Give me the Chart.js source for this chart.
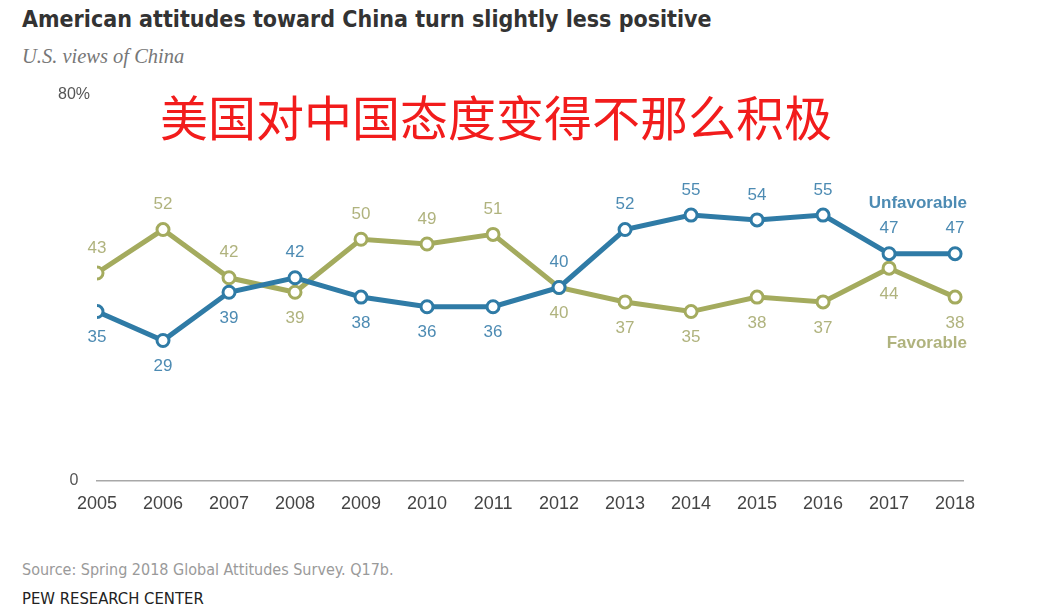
<!DOCTYPE html>
<html>
<head>
<meta charset="utf-8">
<script src="https://cdn.jsdelivr.net/npm/chart.js@4.4.1/dist/chart.umd.min.js"></script>
<style>
    html, body { margin: 0; padding: 0; background: #fff; }
    body { width: 1037px; height: 612px; position: relative; overflow: hidden; font-family: "Liberation Sans", Arial, sans-serif; }
    .title { position: absolute; left: 22px; top: 6px; font-family: "Liberation Sans Narrow", "DejaVu Sans Condensed", sans-serif; font-weight: bold; font-size: 23px; color: #333; white-space: nowrap; }
    .subtitle { position: absolute; left: 22px; top: 45px; font-family: "Liberation Serif", "DejaVu Serif", serif; font-style: italic; font-size: 20.5px; color: #777; }
    .overlay { position: absolute; left: 160px; top: 91px; font-family: "Noto Sans CJK SC", sans-serif; font-size: 48px; line-height: 1; color: #f21c1c; white-space: nowrap; }
    .chart-box { position: absolute; left: 0; top: 77px; width: 1037px; height: 453px; }
    .source { position: absolute; left: 22px; top: 560px; font-family: "Liberation Sans Narrow", "DejaVu Sans Condensed", sans-serif; font-size: 16px; color: #9a9a9a; white-space: nowrap; }
    .brand { position: absolute; left: 22px; top: 589px; font-family: "Liberation Sans Narrow", "DejaVu Sans Condensed", sans-serif; font-size: 16.5px; font-weight: 500; color: #222; white-space: nowrap; }
</style>
</head>
<body>
<div class="title">American attitudes toward China turn slightly less positive</div>
<div class="subtitle">U.S. views of China</div>
<div class="chart-box"><canvas id="viewsChart"></canvas></div>
<div class="overlay">美国对中国态度变得不那么积极</div>
<div class="source">Source: Spring 2018 Global Attitudes Survey. Q17b.</div>
<div class="brand">PEW RESEARCH CENTER</div>

<script>
const years = [2005, 2006, 2007, 2008, 2009, 2010, 2011, 2012, 2013, 2014, 2015, 2016, 2017, 2018];
const unfavorable = [35, 29, 39, 42, 38, 36, 36, 40, 52, 55, 54, 55, 47, 47];
const favorable = [43, 52, 42, 39, 50, 49, 51, 40, 37, 35, 38, 37, 44, 38];
const yTicks = [0, 80];

const BLUE = '#2f7ba6';
const OLIVE = '#a4ab5e';
const BLUE_TEXT = '#4d8bb3';
const OLIVE_TEXT = '#b0b37e';

// value labels above or below each point, depending on which series is higher
const pointLabels = {
    id: 'pointLabels',
    afterDatasetsDraw(chart) {
        const { ctx } = chart;
        const sets = chart.data.datasets;
        ctx.save();
        ctx.font = '17px "Liberation Sans", Arial, sans-serif';
        ctx.textAlign = 'center';
        ctx.textBaseline = 'middle';
        sets.forEach((ds, di) => {
            const other = sets[1 - di].data;
            chart.getDatasetMeta(di).data.forEach((pt, i) => {
                const v = ds.data[i].y;
                const o = other[i].y;
                const above = v > o || (v === o && di === 0);
                ctx.fillStyle = ds.labelColor;
                ctx.fillText(v, pt.x, pt.y + (above ? -25 : 26));
            });
        });

        // series names
        const y = chart.scales.y;
        const right = chart.chartArea.right + 4;
        ctx.font = 'bold 17px "Liberation Sans", Arial, sans-serif';
        ctx.textAlign = 'right';
        ctx.fillStyle = BLUE_TEXT;
        ctx.fillText('Unfavorable', right, y.getPixelForValue(57.5));
        ctx.fillStyle = OLIVE_TEXT;
        ctx.fillText('Favorable', right, y.getPixelForValue(28.4));
        ctx.restore();
    }
};

const toPoints = (vals) => vals.map((v, i) => ({ x: years[i], y: v }));

new Chart(document.getElementById('viewsChart'), {
    type: 'line',
    data: {
        datasets: [
            {
                label: 'Unfavorable',
                data: toPoints(unfavorable),
                borderColor: BLUE,
                labelColor: BLUE_TEXT,
                borderWidth: 5,
                pointRadius: 6,
                pointBorderWidth: 3,
                pointBackgroundColor: '#fff',
                pointBorderColor: BLUE,
                tension: 0
            },
            {
                label: 'Favorable',
                data: toPoints(favorable),
                borderColor: OLIVE,
                labelColor: OLIVE_TEXT,
                borderWidth: 5,
                pointRadius: 6,
                pointBorderWidth: 3,
                pointBackgroundColor: '#fff',
                pointBorderColor: OLIVE,
                tension: 0
            }
        ]
    },
    options: {
        responsive: true,
        maintainAspectRatio: false,
        animation: false,
        layout: { padding: { top: 17.5, right: 74, bottom: 2, left: 0 } },
        plugins: { legend: { display: false }, tooltip: { enabled: false } },
        scales: {
            x: {
                type: 'linear',
                min: years[0],
                max: years[years.length - 1] + 0.12,
                grid: { display: false, drawTicks: false },
                border: { display: true, color: '#a8a8a8', width: 1.5 },
                afterBuildTicks: (scale) => { scale.ticks = years.map(v => ({ value: v })); },
                ticks: {
                    padding: 13,
                    color: '#444',
                    font: { size: 18, family: '"Liberation Sans", Arial, sans-serif' },
                    maxRotation: 0,
                    autoSkip: false,
                    callback: (v) => String(v)
                }
            },
            y: {
                min: 0,
                max: 80,
                grid: { display: false, drawTicks: false },
                border: { display: false },
                afterBuildTicks: (scale) => { scale.ticks = yTicks.map(v => ({ value: v })); },
                afterFit: (scale) => { scale.width = 97; },
                ticks: {
                    padding: 7,
                    crossAlign: 'center',
                    color: '#555',
                    font: { size: 16, family: '"Liberation Sans", Arial, sans-serif' },
                    callback: (v) => v === 80 ? '80%' : String(v)
                }
            }
        }
    },
    plugins: [pointLabels]
});
</script>
</body>
</html>
